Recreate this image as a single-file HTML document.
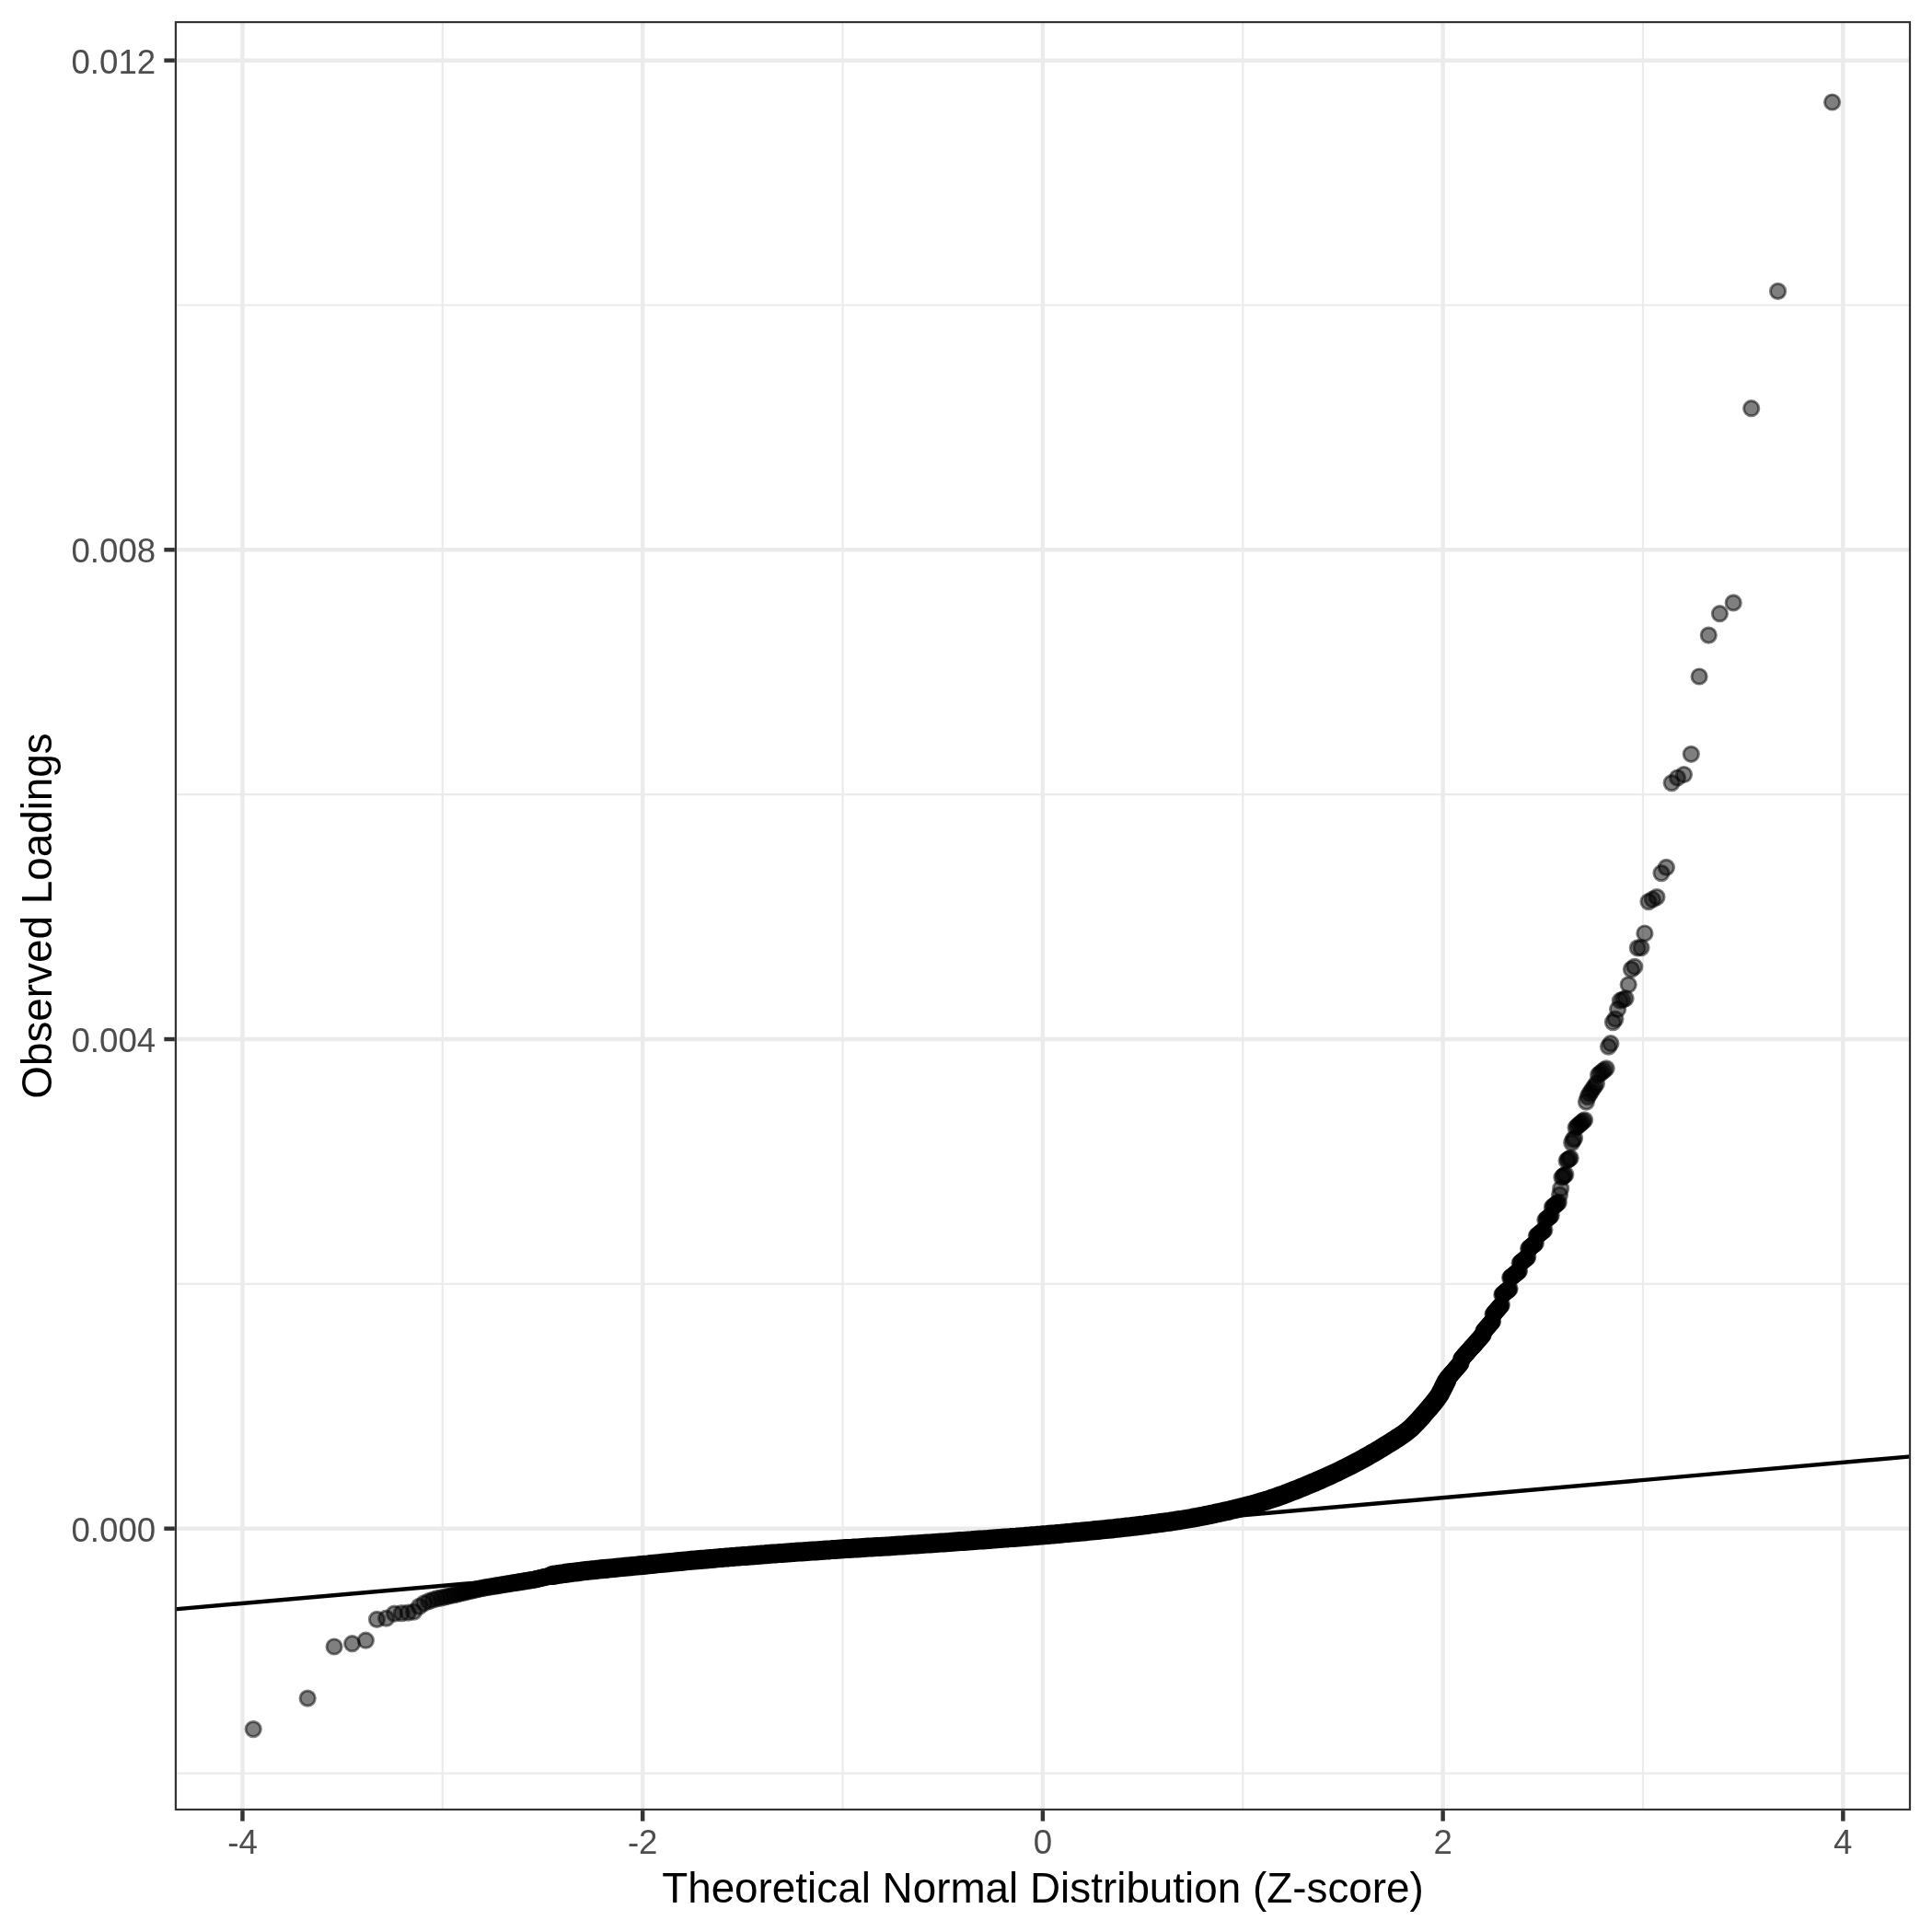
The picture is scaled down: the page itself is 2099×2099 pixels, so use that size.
<!DOCTYPE html>
<html><head><meta charset="utf-8"><title>QQ plot</title>
<style>
html,body{margin:0;padding:0;background:#fff}
svg{display:block;will-change:transform}
text{font-family:"Liberation Sans",sans-serif}
.at{font-size:36.67px;fill:#4d4d4d}
.ti{font-size:45.83px;fill:#000}
.gM{stroke:#ebebeb;stroke-width:4.45;fill:none}
.gm{stroke:#ebebeb;stroke-width:2.22;fill:none}
.tk{stroke:#333;stroke-width:4.45;fill:none}
.pt circle{fill:#000;fill-opacity:.5;stroke:#000;stroke-opacity:.5;stroke-width:2.95}
</style></head><body>
<svg width="2099" height="2099" viewBox="0 0 2099 2099">
<rect width="2099" height="2099" fill="#fff"/>
<defs><clipPath id="pc"><rect x="189.8" y="22.9" width="1886.30" height="1944.20"/></clipPath></defs>
<g clip-path="url(#pc)">

<path class="gm" d="M189.8 1926.54H2076.1"/>
<path class="gm" d="M189.8 1394.86H2076.1"/>
<path class="gm" d="M189.8 863.18H2076.1"/>
<path class="gm" d="M189.8 331.49H2076.1"/>
<path class="gm" d="M480.82 22.9V1967.1"/>
<path class="gm" d="M915.54 22.9V1967.1"/>
<path class="gm" d="M1350.26 22.9V1967.1"/>
<path class="gm" d="M1784.98 22.9V1967.1"/>
<path class="gM" d="M189.8 1660.70H2076.1"/>
<path class="gM" d="M189.8 1129.02H2076.1"/>
<path class="gM" d="M189.8 597.33H2076.1"/>
<path class="gM" d="M189.8 65.65H2076.1"/>
<path class="gM" d="M263.46 22.9V1967.1"/>
<path class="gM" d="M698.18 22.9V1967.1"/>
<path class="gM" d="M1132.90 22.9V1967.1"/>
<path class="gM" d="M1567.62 22.9V1967.1"/>
<path class="gM" d="M2002.34 22.9V1967.1"/>


<polyline fill="none" stroke="#000" stroke-width="21" stroke-linecap="round" stroke-linejoin="round" points="600.1,1711.5 603.5,1711.0 606.8,1710.4 610.0,1710.0 613.1,1709.5 616.8,1709.0 620.3,1708.5 623.7,1708.1 627.1,1707.7 630.2,1707.3 633.3,1706.9 636.9,1706.5 640.4,1706.1 643.7,1705.8 646.9,1705.5 650.0,1705.1 653.0,1704.8 656.4,1704.5 659.7,1704.2 662.9,1703.9 666.0,1703.6 669.4,1703.2 672.8,1702.9 676.0,1702.6 679.1,1702.3 682.1,1702.1 685.4,1701.7 688.6,1701.4 691.7,1701.1 694.7,1700.8 698.0,1700.5 701.1,1700.2 704.2,1699.9 707.5,1699.5 710.7,1699.2 713.8,1698.9 716.8,1698.6 720.0,1698.3 723.1,1698.0 726.1,1697.7 729.3,1697.4 732.4,1697.1 735.5,1696.8 738.7,1696.5 741.8,1696.2 744.8,1695.9 747.9,1695.6 751.0,1695.3 754.0,1695.1 757.2,1694.8 760.2,1694.5 763.4,1694.2 766.4,1694.0 769.5,1693.7 772.6,1693.4 775.6,1693.2 778.8,1692.9 781.8,1692.6 785.0,1692.4 788.1,1692.1 791.1,1691.9 794.2,1691.6 797.2,1691.4 800.3,1691.1 803.4,1690.9 806.5,1690.6 809.5,1690.4 812.6,1690.2 815.7,1689.9 818.8,1689.7 821.8,1689.5 824.9,1689.2 828.0,1689.0 831.1,1688.8 834.1,1688.5 837.2,1688.3 840.2,1688.1 843.3,1687.9 846.3,1687.6 849.4,1687.4 852.4,1687.2 855.5,1687.0 858.5,1686.8 861.5,1686.6 864.6,1686.3 867.6,1686.1 870.7,1685.9 873.7,1685.7 876.8,1685.5 879.8,1685.3 882.9,1685.1 885.9,1684.9 889.0,1684.7 892.0,1684.5 895.1,1684.3 898.1,1684.1 901.1,1683.9 904.1,1683.6 907.2,1683.4 910.2,1683.2 913.3,1683.0 916.3,1682.8 919.3,1682.6 922.4,1682.4 925.4,1682.3 928.5,1682.1 931.5,1681.9 934.5,1681.7 937.5,1681.5 940.6,1681.3 943.6,1681.1 946.6,1681.0 949.7,1680.8 952.7,1680.6 955.7,1680.4 958.7,1680.2 961.8,1680.1 964.8,1679.9 967.8,1679.7 970.9,1679.5 973.9,1679.3 976.9,1679.1 980.0,1678.9 983.0,1678.7 986.0,1678.5 989.0,1678.3 992.0,1678.1 995.1,1677.9 998.1,1677.7 1001.1,1677.5 1004.1,1677.3 1007.1,1677.1 1010.2,1676.9 1013.2,1676.7 1016.2,1676.5 1019.2,1676.3 1022.3,1676.1 1025.3,1675.9 1028.3,1675.7 1031.3,1675.5 1034.4,1675.2 1037.4,1675.0 1040.4,1674.8 1043.4,1674.6 1046.5,1674.4 1049.5,1674.2 1052.5,1674.0 1055.5,1673.8 1058.6,1673.5 1061.6,1673.3 1064.6,1673.1 1067.6,1672.9 1070.7,1672.7 1073.7,1672.5 1076.7,1672.2 1079.7,1672.0 1082.8,1671.8 1085.8,1671.6 1088.8,1671.3 1091.8,1671.1 1094.8,1670.9 1097.9,1670.6 1100.9,1670.4 1103.9,1670.2 1106.9,1669.9 1109.9,1669.7 1112.9,1669.5 1116.0,1669.2 1119.0,1669.0 1122.0,1668.7 1125.1,1668.5 1128.1,1668.2 1131.1,1668.0 1134.2,1667.7 1137.2,1667.5 1140.2,1667.2 1143.3,1666.9 1146.3,1666.7 1149.4,1666.4 1152.4,1666.2 1155.4,1665.9 1158.4,1665.6 1161.4,1665.4 1164.4,1665.1 1167.5,1664.8 1170.5,1664.5 1173.5,1664.3 1176.5,1664.0 1179.5,1663.7 1182.6,1663.4 1185.6,1663.1 1188.6,1662.8 1191.6,1662.5 1194.6,1662.2 1197.7,1661.9 1200.7,1661.6 1203.7,1661.3 1206.7,1661.0 1209.8,1660.7 1212.8,1660.3 1215.8,1660.0 1218.8,1659.7 1221.8,1659.3 1224.9,1659.0 1227.9,1658.7 1230.9,1658.3 1233.9,1658.0 1236.9,1657.6 1240.0,1657.2 1243.0,1656.9 1246.0,1656.5 1249.1,1656.1 1252.1,1655.7 1255.1,1655.3 1258.1,1654.9 1261.1,1654.5 1264.1,1654.1 1267.2,1653.7 1270.2,1653.3 1273.2,1652.8 1276.2,1652.4 1279.2,1651.9 1282.2,1651.5 1285.2,1651.0 1288.2,1650.5 1291.3,1650.0 1294.3,1649.5 1297.3,1648.9 1300.3,1648.4 1303.4,1647.8 1306.4,1647.2 1309.5,1646.6 1312.5,1646.0 1315.5,1645.4 1318.5,1644.8 1321.5,1644.1 1324.6,1643.4 1327.6,1642.8 1330.7,1642.1 1333.7,1641.4 1336.7,1640.7 1339.8,1639.9 1342.8,1639.2 1345.8,1638.5 1348.9,1637.7 1351.9,1637.0 1354.9,1636.2 1357.9,1635.4 1361.0,1634.6 1364.0,1633.7 1367.1,1632.8 1370.1,1632.0 1373.1,1631.0 1376.2,1630.1 1379.2,1629.1 1382.3,1628.1 1385.3,1627.1 1388.4,1626.0 1391.4,1624.9 1394.5,1623.8 1397.5,1622.7 1400.5,1621.5 1403.6,1620.3 1406.7,1619.1 1409.7,1617.9 1412.8,1616.6 1415.8,1615.4 1418.9,1614.2 1421.9,1612.9 1424.9,1611.6 1428.0,1610.4 1431.0,1609.0 1434.1,1607.7 1437.1,1606.4 1440.2,1605.0 1443.3,1603.6 1446.3,1602.2 1449.4,1600.8 1452.4,1599.4 1455.5,1597.9 1458.5,1596.4 1461.6,1594.9 1464.6,1593.4 1467.7,1591.8 1470.7,1590.2 1473.8,1588.6 1477.0,1586.9 1480.0,1585.3 1483.2,1583.5 1486.2,1581.8 1489.3,1580.0 1492.4,1578.3 1495.5,1576.5 1498.6,1574.6 1501.7,1572.7 1504.8,1570.8 1507.9,1568.9 1511.0,1567.0 1514.2,1565.0 1517.2,1563.0 1520.4,1561.0 1523.4,1558.9 1526.5,1556.7 1529.6,1554.3 1532.7,1551.7 1535.7,1548.8 1538.9,1545.5 1541.9,1542.2 1545.0,1538.7 1548.2,1535.0 1551.5,1531.3 1554.6,1527.7 1557.7,1523.9 1561.0,1519.6 1564.1,1515.1 1567.2,1509.2 1570.4,1502.6 1571.8,1500.0"/>

<g class="pt">
<circle cx="275.2" cy="1878.6" r="8.14"/>
<circle cx="334.2" cy="1845.1" r="8.14"/>
<circle cx="363.1" cy="1789.0" r="8.14"/>
<circle cx="382.6" cy="1785.7" r="8.14"/>
<circle cx="397.4" cy="1782.2" r="8.14"/>
<circle cx="409.5" cy="1759.4" r="8.14"/>
<circle cx="419.7" cy="1758.2" r="8.14"/>
<circle cx="428.5" cy="1753.1" r="8.14"/>
<circle cx="436.3" cy="1752.6" r="8.14"/>
<circle cx="443.3" cy="1752.1" r="8.14"/>
<circle cx="449.6" cy="1751.1" r="8.14"/>
<circle cx="455.4" cy="1745.4" r="8.14"/>
<circle cx="460.8" cy="1741.8" r="8.14"/>
<circle cx="465.8" cy="1739.7" r="8.14"/>
<circle cx="470.4" cy="1738.1" r="8.14"/>
<circle cx="474.8" cy="1736.6" r="8.14"/>
<circle cx="478.9" cy="1736.1" r="8.14"/>
<circle cx="482.8" cy="1735.2" r="8.14"/>
<circle cx="486.5" cy="1734.3" r="8.14"/>
<circle cx="490.0" cy="1733.5" r="8.14"/>
<circle cx="493.4" cy="1732.7" r="8.14"/>
<circle cx="496.6" cy="1731.9" r="8.14"/>
<circle cx="499.7" cy="1731.2" r="8.14"/>
<circle cx="502.6" cy="1730.4" r="8.14"/>
<circle cx="505.5" cy="1729.8" r="8.14"/>
<circle cx="508.2" cy="1729.1" r="8.14"/>
<circle cx="510.9" cy="1728.5" r="8.14"/>
<circle cx="513.4" cy="1727.9" r="8.14"/>
<circle cx="515.9" cy="1727.3" r="8.14"/>
<circle cx="518.3" cy="1726.7" r="8.14"/>
<circle cx="520.6" cy="1726.2" r="8.14"/>
<circle cx="522.9" cy="1725.6" r="8.14"/>
<circle cx="525.1" cy="1725.1" r="8.14"/>
<circle cx="527.2" cy="1724.8" r="8.14"/>
<circle cx="529.3" cy="1724.4" r="8.14"/>
<circle cx="531.3" cy="1724.1" r="8.14"/>
<circle cx="533.3" cy="1723.8" r="8.14"/>
<circle cx="535.2" cy="1723.5" r="8.14"/>
<circle cx="537.1" cy="1723.2" r="8.14"/>
<circle cx="538.9" cy="1722.9" r="8.14"/>
<circle cx="540.7" cy="1722.6" r="8.14"/>
<circle cx="542.4" cy="1722.3" r="8.14"/>
<circle cx="544.2" cy="1722.0" r="8.14"/>
<circle cx="545.8" cy="1721.7" r="8.14"/>
<circle cx="547.5" cy="1721.5" r="8.14"/>
<circle cx="549.1" cy="1721.2" r="8.14"/>
<circle cx="550.7" cy="1721.0" r="8.14"/>
<circle cx="552.2" cy="1720.7" r="8.14"/>
<circle cx="553.7" cy="1720.5" r="8.14"/>
<circle cx="555.2" cy="1720.2" r="8.14"/>
<circle cx="556.7" cy="1720.0" r="8.14"/>
<circle cx="558.1" cy="1719.7" r="8.14"/>
<circle cx="559.6" cy="1719.5" r="8.14"/>
<circle cx="561.0" cy="1719.3" r="8.14"/>
<circle cx="562.3" cy="1719.1" r="8.14"/>
<circle cx="563.7" cy="1718.9" r="8.14"/>
<circle cx="565.0" cy="1718.6" r="8.14"/>
<circle cx="566.3" cy="1718.4" r="8.14"/>
<circle cx="567.6" cy="1718.2" r="8.14"/>
<circle cx="568.9" cy="1718.0" r="8.14"/>
<circle cx="570.1" cy="1717.8" r="8.14"/>
<circle cx="571.3" cy="1717.6" r="8.14"/>
<circle cx="572.5" cy="1717.4" r="8.14"/>
<circle cx="573.7" cy="1717.2" r="8.14"/>
<circle cx="574.9" cy="1717.0" r="8.14"/>
<circle cx="576.1" cy="1716.8" r="8.14"/>
<circle cx="577.2" cy="1716.7" r="8.14"/>
<circle cx="578.3" cy="1716.5" r="8.14"/>
<circle cx="579.5" cy="1716.3" r="8.14"/>
<circle cx="580.6" cy="1716.1" r="8.14"/>
<circle cx="581.6" cy="1715.8" r="8.14"/>
<circle cx="582.7" cy="1715.6" r="8.14"/>
<circle cx="583.8" cy="1715.3" r="8.14"/>
<circle cx="584.8" cy="1715.1" r="8.14"/>
<circle cx="585.9" cy="1714.8" r="8.14"/>
<circle cx="586.9" cy="1714.6" r="8.14"/>
<circle cx="587.9" cy="1714.4" r="8.14"/>
<circle cx="588.9" cy="1714.1" r="8.14"/>
<circle cx="589.9" cy="1713.9" r="8.14"/>
<circle cx="590.9" cy="1713.7" r="8.14"/>
<circle cx="591.8" cy="1713.5" r="8.14"/>
<circle cx="592.8" cy="1713.2" r="8.14"/>
<circle cx="593.7" cy="1713.0" r="8.14"/>
<circle cx="594.7" cy="1712.8" r="8.14"/>
<circle cx="595.6" cy="1712.6" r="8.14"/>
<circle cx="596.5" cy="1712.4" r="8.14"/>
<circle cx="597.4" cy="1712.2" r="8.14"/>
<circle cx="598.3" cy="1712.0" r="8.14"/>
<circle cx="599.2" cy="1711.8" r="8.14"/>
<circle cx="600.1" cy="1711.5" r="8.14"/>
<circle cx="600.9" cy="1711.4" r="8.14"/>
<circle cx="601.8" cy="1711.2" r="8.14"/>
<circle cx="602.6" cy="1711.1" r="8.14"/>
<circle cx="603.5" cy="1711.0" r="8.14"/>
<circle cx="604.3" cy="1710.8" r="8.14"/>
<circle cx="605.2" cy="1710.7" r="8.14"/>
<circle cx="606.0" cy="1710.6" r="8.14"/>
<circle cx="606.8" cy="1710.4" r="8.14"/>
<circle cx="607.6" cy="1710.3" r="8.14"/>
<circle cx="608.4" cy="1710.2" r="8.14"/>
<circle cx="609.2" cy="1710.1" r="8.14"/>
<circle cx="610.0" cy="1710.0" r="8.14"/>
<circle cx="610.8" cy="1709.8" r="8.14"/>
<circle cx="611.5" cy="1709.7" r="8.14"/>
<circle cx="612.3" cy="1709.6" r="8.14"/>
<circle cx="613.1" cy="1709.5" r="8.14"/>
<circle cx="613.8" cy="1709.4" r="8.14"/>
<circle cx="614.6" cy="1709.3" r="8.14"/>
<circle cx="615.3" cy="1709.2" r="8.14"/>
<circle cx="616.0" cy="1709.1" r="8.14"/>
<circle cx="616.8" cy="1709.0" r="8.14"/>
<circle cx="617.5" cy="1708.9" r="8.14"/>
<circle cx="618.2" cy="1708.8" r="8.14"/>
<circle cx="618.9" cy="1708.7" r="8.14"/>
<circle cx="619.6" cy="1708.6" r="8.14"/>
<circle cx="620.3" cy="1708.5" r="8.14"/>
<circle cx="621.0" cy="1708.4" r="8.14"/>
<circle cx="621.7" cy="1708.3" r="8.14"/>
<circle cx="622.4" cy="1708.3" r="8.14"/>
<circle cx="623.1" cy="1708.2" r="8.14"/>
<circle cx="623.7" cy="1708.1" r="8.14"/>
<circle cx="624.4" cy="1708.0" r="8.14"/>
<circle cx="625.1" cy="1707.9" r="8.14"/>
<circle cx="625.7" cy="1707.8" r="8.14"/>
<circle cx="626.4" cy="1707.8" r="8.14"/>
<circle cx="627.1" cy="1707.7" r="8.14"/>
<circle cx="627.7" cy="1707.6" r="8.14"/>
<circle cx="628.3" cy="1707.5" r="8.14"/>
<circle cx="629.0" cy="1707.4" r="8.14"/>
<circle cx="629.6" cy="1707.4" r="8.14"/>
<circle cx="630.2" cy="1707.3" r="8.14"/>
<circle cx="630.9" cy="1707.2" r="8.14"/>
<circle cx="631.5" cy="1707.1" r="8.14"/>
<circle cx="632.1" cy="1707.1" r="8.14"/>
<circle cx="632.7" cy="1707.0" r="8.14"/>
<circle cx="633.3" cy="1706.9" r="8.14"/>
<circle cx="633.9" cy="1706.9" r="8.14"/>
<circle cx="634.5" cy="1706.8" r="8.14"/>
<circle cx="635.1" cy="1706.7" r="8.14"/>
<circle cx="635.7" cy="1706.7" r="8.14"/>
<circle cx="636.3" cy="1706.6" r="8.14"/>
<circle cx="636.9" cy="1706.5" r="8.14"/>
<circle cx="637.5" cy="1706.5" r="8.14"/>
<circle cx="638.1" cy="1706.4" r="8.14"/>
<circle cx="638.6" cy="1706.3" r="8.14"/>
<circle cx="639.2" cy="1706.3" r="8.14"/>
<circle cx="639.8" cy="1706.2" r="8.14"/>
<circle cx="641.5" cy="1706.0" r="8.14"/>
<circle cx="643.1" cy="1705.8" r="8.14"/>
<circle cx="644.8" cy="1705.7" r="8.14"/>
<circle cx="646.4" cy="1705.5" r="8.14"/>
<circle cx="648.5" cy="1705.3" r="8.14"/>
<circle cx="650.5" cy="1705.1" r="8.14"/>
<circle cx="652.5" cy="1704.9" r="8.14"/>
<circle cx="654.5" cy="1704.7" r="8.14"/>
<circle cx="656.4" cy="1704.5" r="8.14"/>
<circle cx="658.3" cy="1704.3" r="8.14"/>
<circle cx="660.2" cy="1704.1" r="8.14"/>
<circle cx="662.0" cy="1704.0" r="8.14"/>
<circle cx="663.8" cy="1703.8" r="8.14"/>
<circle cx="665.6" cy="1703.6" r="8.14"/>
<circle cx="667.3" cy="1703.4" r="8.14"/>
<circle cx="669.0" cy="1703.3" r="8.14"/>
<circle cx="670.7" cy="1703.1" r="8.14"/>
<circle cx="672.3" cy="1703.0" r="8.14"/>
<circle cx="674.0" cy="1702.8" r="8.14"/>
<circle cx="675.6" cy="1702.7" r="8.14"/>
<circle cx="677.5" cy="1702.5" r="8.14"/>
<circle cx="679.5" cy="1702.3" r="8.14"/>
<circle cx="681.3" cy="1702.1" r="8.14"/>
<circle cx="683.2" cy="1701.9" r="8.14"/>
<circle cx="685.0" cy="1701.8" r="8.14"/>
<circle cx="686.8" cy="1701.6" r="8.14"/>
<circle cx="688.6" cy="1701.4" r="8.14"/>
<circle cx="690.3" cy="1701.3" r="8.14"/>
<circle cx="692.0" cy="1701.1" r="8.14"/>
<circle cx="693.7" cy="1700.9" r="8.14"/>
<circle cx="695.4" cy="1700.8" r="8.14"/>
<circle cx="697.0" cy="1700.6" r="8.14"/>
<circle cx="698.6" cy="1700.4" r="8.14"/>
<circle cx="700.5" cy="1700.2" r="8.14"/>
<circle cx="702.4" cy="1700.1" r="8.14"/>
<circle cx="704.2" cy="1699.9" r="8.14"/>
<circle cx="706.0" cy="1699.7" r="8.14"/>
<circle cx="707.8" cy="1699.5" r="8.14"/>
<circle cx="709.5" cy="1699.3" r="8.14"/>
<circle cx="711.2" cy="1699.2" r="8.14"/>
<circle cx="712.9" cy="1699.0" r="8.14"/>
<circle cx="714.6" cy="1698.8" r="8.14"/>
<circle cx="716.2" cy="1698.7" r="8.14"/>
<circle cx="717.9" cy="1698.5" r="8.14"/>
<circle cx="719.5" cy="1698.4" r="8.14"/>
<circle cx="721.3" cy="1698.2" r="8.14"/>
<circle cx="723.1" cy="1698.0" r="8.14"/>
<circle cx="724.9" cy="1697.8" r="8.14"/>
<circle cx="726.6" cy="1697.7" r="8.14"/>
<circle cx="728.4" cy="1697.5" r="8.14"/>
<circle cx="730.1" cy="1697.3" r="8.14"/>
<circle cx="731.7" cy="1697.2" r="8.14"/>
<circle cx="733.4" cy="1697.0" r="8.14"/>
<circle cx="735.0" cy="1696.8" r="8.14"/>
<circle cx="736.6" cy="1696.7" r="8.14"/>
<circle cx="738.4" cy="1696.5" r="8.14"/>
<circle cx="740.2" cy="1696.3" r="8.14"/>
<circle cx="742.0" cy="1696.2" r="8.14"/>
<circle cx="743.7" cy="1696.0" r="8.14"/>
<circle cx="745.4" cy="1695.9" r="8.14"/>
<circle cx="747.1" cy="1695.7" r="8.14"/>
<circle cx="748.8" cy="1695.5" r="8.14"/>
<circle cx="750.4" cy="1695.4" r="8.14"/>
<circle cx="752.0" cy="1695.2" r="8.14"/>
<circle cx="753.6" cy="1695.1" r="8.14"/>
<circle cx="755.4" cy="1694.9" r="8.14"/>
<circle cx="757.2" cy="1694.8" r="8.14"/>
<circle cx="758.9" cy="1694.6" r="8.14"/>
<circle cx="760.6" cy="1694.5" r="8.14"/>
<circle cx="762.3" cy="1694.3" r="8.14"/>
<circle cx="763.9" cy="1694.2" r="8.14"/>
<circle cx="765.5" cy="1694.0" r="8.14"/>
<circle cx="767.2" cy="1693.9" r="8.14"/>
<circle cx="768.8" cy="1693.7" r="8.14"/>
<circle cx="770.5" cy="1693.6" r="8.14"/>
<circle cx="772.2" cy="1693.4" r="8.14"/>
<circle cx="773.9" cy="1693.3" r="8.14"/>
<circle cx="775.6" cy="1693.2" r="8.14"/>
<circle cx="777.3" cy="1693.0" r="8.14"/>
<circle cx="778.9" cy="1692.9" r="8.14"/>
<circle cx="780.5" cy="1692.7" r="8.14"/>
<circle cx="782.2" cy="1692.6" r="8.14"/>
<circle cx="783.9" cy="1692.5" r="8.14"/>
<circle cx="785.6" cy="1692.3" r="8.14"/>
<circle cx="787.3" cy="1692.2" r="8.14"/>
<circle cx="789.0" cy="1692.0" r="8.14"/>
<circle cx="790.6" cy="1691.9" r="8.14"/>
<circle cx="792.3" cy="1691.8" r="8.14"/>
<circle cx="793.9" cy="1691.6" r="8.14"/>
<circle cx="795.5" cy="1691.5" r="8.14"/>
<circle cx="797.2" cy="1691.4" r="8.14"/>
<circle cx="798.9" cy="1691.2" r="8.14"/>
<circle cx="800.6" cy="1691.1" r="8.14"/>
<circle cx="802.3" cy="1691.0" r="8.14"/>
<circle cx="803.9" cy="1690.8" r="8.14"/>
<circle cx="805.5" cy="1690.7" r="8.14"/>
<circle cx="807.1" cy="1690.6" r="8.14"/>
<circle cx="808.9" cy="1690.5" r="8.14"/>
<circle cx="810.6" cy="1690.3" r="8.14"/>
<circle cx="812.2" cy="1690.2" r="8.14"/>
<circle cx="813.9" cy="1690.1" r="8.14"/>
<circle cx="815.5" cy="1689.9" r="8.14"/>
<circle cx="817.2" cy="1689.8" r="8.14"/>
<circle cx="818.8" cy="1689.7" r="8.14"/>
<circle cx="820.5" cy="1689.6" r="8.14"/>
<circle cx="822.2" cy="1689.4" r="8.14"/>
<circle cx="823.9" cy="1689.3" r="8.14"/>
<circle cx="825.5" cy="1689.2" r="8.14"/>
<circle cx="827.2" cy="1689.1" r="8.14"/>
<circle cx="828.8" cy="1688.9" r="8.14"/>
<circle cx="830.4" cy="1688.8" r="8.14"/>
<circle cx="832.1" cy="1688.7" r="8.14"/>
<circle cx="833.8" cy="1688.6" r="8.14"/>
<circle cx="835.4" cy="1688.4" r="8.14"/>
<circle cx="837.1" cy="1688.3" r="8.14"/>
<circle cx="838.7" cy="1688.2" r="8.14"/>
<circle cx="840.3" cy="1688.1" r="8.14"/>
<circle cx="841.9" cy="1688.0" r="8.14"/>
<circle cx="843.6" cy="1687.8" r="8.14"/>
<circle cx="845.3" cy="1687.7" r="8.14"/>
<circle cx="846.9" cy="1687.6" r="8.14"/>
<circle cx="848.6" cy="1687.5" r="8.14"/>
<circle cx="850.2" cy="1687.4" r="8.14"/>
<circle cx="851.8" cy="1687.2" r="8.14"/>
<circle cx="853.5" cy="1687.1" r="8.14"/>
<circle cx="855.2" cy="1687.0" r="8.14"/>
<circle cx="856.8" cy="1686.9" r="8.14"/>
<circle cx="858.5" cy="1686.8" r="8.14"/>
<circle cx="860.1" cy="1686.7" r="8.14"/>
<circle cx="861.7" cy="1686.5" r="8.14"/>
<circle cx="863.3" cy="1686.4" r="8.14"/>
<circle cx="865.0" cy="1686.3" r="8.14"/>
<circle cx="866.6" cy="1686.2" r="8.14"/>
<circle cx="868.3" cy="1686.1" r="8.14"/>
<circle cx="869.9" cy="1686.0" r="8.14"/>
<circle cx="871.5" cy="1685.9" r="8.14"/>
<circle cx="873.1" cy="1685.8" r="8.14"/>
<circle cx="874.8" cy="1685.6" r="8.14"/>
<circle cx="876.5" cy="1685.5" r="8.14"/>
<circle cx="878.1" cy="1685.4" r="8.14"/>
<circle cx="879.7" cy="1685.3" r="8.14"/>
<circle cx="881.3" cy="1685.2" r="8.14"/>
<circle cx="882.9" cy="1685.1" r="8.14"/>
<circle cx="884.6" cy="1685.0" r="8.14"/>
<circle cx="886.3" cy="1684.9" r="8.14"/>
<circle cx="887.9" cy="1684.7" r="8.14"/>
<circle cx="889.5" cy="1684.6" r="8.14"/>
<circle cx="891.2" cy="1684.5" r="8.14"/>
<circle cx="892.8" cy="1684.4" r="8.14"/>
<circle cx="894.4" cy="1684.3" r="8.14"/>
<circle cx="896.1" cy="1684.2" r="8.14"/>
<circle cx="897.7" cy="1684.1" r="8.14"/>
<circle cx="899.3" cy="1684.0" r="8.14"/>
<circle cx="901.0" cy="1683.9" r="8.14"/>
<circle cx="902.6" cy="1683.8" r="8.14"/>
<circle cx="904.2" cy="1683.6" r="8.14"/>
<circle cx="905.9" cy="1683.5" r="8.14"/>
<circle cx="907.5" cy="1683.4" r="8.14"/>
<circle cx="909.1" cy="1683.3" r="8.14"/>
<circle cx="910.7" cy="1683.2" r="8.14"/>
<circle cx="912.3" cy="1683.1" r="8.14"/>
<circle cx="914.0" cy="1683.0" r="8.14"/>
<circle cx="915.7" cy="1682.9" r="8.14"/>
<circle cx="917.3" cy="1682.8" r="8.14"/>
<circle cx="918.9" cy="1682.7" r="8.14"/>
<circle cx="920.5" cy="1682.6" r="8.14"/>
<circle cx="922.1" cy="1682.5" r="8.14"/>
<circle cx="923.8" cy="1682.4" r="8.14"/>
<circle cx="925.4" cy="1682.3" r="8.14"/>
<circle cx="927.1" cy="1682.2" r="8.14"/>
<circle cx="928.7" cy="1682.1" r="8.14"/>
<circle cx="930.3" cy="1682.0" r="8.14"/>
<circle cx="931.9" cy="1681.9" r="8.14"/>
<circle cx="933.5" cy="1681.8" r="8.14"/>
<circle cx="935.2" cy="1681.7" r="8.14"/>
<circle cx="936.8" cy="1681.6" r="8.14"/>
<circle cx="938.4" cy="1681.5" r="8.14"/>
<circle cx="940.1" cy="1681.4" r="8.14"/>
<circle cx="941.7" cy="1681.3" r="8.14"/>
<circle cx="943.3" cy="1681.2" r="8.14"/>
<circle cx="944.9" cy="1681.1" r="8.14"/>
<circle cx="946.6" cy="1681.0" r="8.14"/>
<circle cx="948.2" cy="1680.9" r="8.14"/>
<circle cx="949.8" cy="1680.8" r="8.14"/>
<circle cx="951.4" cy="1680.7" r="8.14"/>
<circle cx="953.1" cy="1680.6" r="8.14"/>
<circle cx="954.7" cy="1680.5" r="8.14"/>
<circle cx="956.3" cy="1680.4" r="8.14"/>
<circle cx="958.0" cy="1680.3" r="8.14"/>
<circle cx="959.6" cy="1680.2" r="8.14"/>
<circle cx="961.2" cy="1680.1" r="8.14"/>
<circle cx="962.8" cy="1680.0" r="8.14"/>
<circle cx="964.5" cy="1679.9" r="8.14"/>
<circle cx="966.1" cy="1679.8" r="8.14"/>
<circle cx="967.7" cy="1679.7" r="8.14"/>
<circle cx="969.3" cy="1679.6" r="8.14"/>
<circle cx="970.9" cy="1679.5" r="8.14"/>
<circle cx="972.6" cy="1679.4" r="8.14"/>
<circle cx="974.2" cy="1679.3" r="8.14"/>
<circle cx="975.9" cy="1679.2" r="8.14"/>
<circle cx="977.5" cy="1679.1" r="8.14"/>
<circle cx="979.1" cy="1679.0" r="8.14"/>
<circle cx="980.7" cy="1678.9" r="8.14"/>
<circle cx="982.3" cy="1678.7" r="8.14"/>
<circle cx="984.0" cy="1678.6" r="8.14"/>
<circle cx="985.6" cy="1678.5" r="8.14"/>
<circle cx="987.2" cy="1678.4" r="8.14"/>
<circle cx="988.9" cy="1678.3" r="8.14"/>
<circle cx="990.5" cy="1678.2" r="8.14"/>
<circle cx="992.1" cy="1678.1" r="8.14"/>
<circle cx="993.7" cy="1678.0" r="8.14"/>
<circle cx="995.3" cy="1677.9" r="8.14"/>
<circle cx="997.0" cy="1677.8" r="8.14"/>
<circle cx="998.6" cy="1677.7" r="8.14"/>
<circle cx="1000.2" cy="1677.6" r="8.14"/>
<circle cx="1001.8" cy="1677.5" r="8.14"/>
<circle cx="1003.4" cy="1677.3" r="8.14"/>
<circle cx="1005.0" cy="1677.2" r="8.14"/>
<circle cx="1006.7" cy="1677.1" r="8.14"/>
<circle cx="1008.3" cy="1677.0" r="8.14"/>
<circle cx="1009.9" cy="1676.9" r="8.14"/>
<circle cx="1011.6" cy="1676.8" r="8.14"/>
<circle cx="1013.2" cy="1676.7" r="8.14"/>
<circle cx="1014.8" cy="1676.6" r="8.14"/>
<circle cx="1016.4" cy="1676.5" r="8.14"/>
<circle cx="1018.0" cy="1676.4" r="8.14"/>
<circle cx="1019.6" cy="1676.3" r="8.14"/>
<circle cx="1021.3" cy="1676.1" r="8.14"/>
<circle cx="1022.9" cy="1676.0" r="8.14"/>
<circle cx="1024.5" cy="1675.9" r="8.14"/>
<circle cx="1026.1" cy="1675.8" r="8.14"/>
<circle cx="1027.7" cy="1675.7" r="8.14"/>
<circle cx="1029.3" cy="1675.6" r="8.14"/>
<circle cx="1030.9" cy="1675.5" r="8.14"/>
<circle cx="1032.6" cy="1675.4" r="8.14"/>
<circle cx="1034.2" cy="1675.3" r="8.14"/>
<circle cx="1035.9" cy="1675.1" r="8.14"/>
<circle cx="1037.5" cy="1675.0" r="8.14"/>
<circle cx="1039.1" cy="1674.9" r="8.14"/>
<circle cx="1040.7" cy="1674.8" r="8.14"/>
<circle cx="1042.3" cy="1674.7" r="8.14"/>
<circle cx="1043.9" cy="1674.6" r="8.14"/>
<circle cx="1045.5" cy="1674.5" r="8.14"/>
<circle cx="1047.2" cy="1674.4" r="8.14"/>
<circle cx="1048.8" cy="1674.2" r="8.14"/>
<circle cx="1050.4" cy="1674.1" r="8.14"/>
<circle cx="1052.1" cy="1674.0" r="8.14"/>
<circle cx="1053.7" cy="1673.9" r="8.14"/>
<circle cx="1055.3" cy="1673.8" r="8.14"/>
<circle cx="1056.9" cy="1673.7" r="8.14"/>
<circle cx="1058.5" cy="1673.6" r="8.14"/>
<circle cx="1060.1" cy="1673.4" r="8.14"/>
<circle cx="1061.7" cy="1673.3" r="8.14"/>
<circle cx="1063.3" cy="1673.2" r="8.14"/>
<circle cx="1065.0" cy="1673.1" r="8.14"/>
<circle cx="1066.6" cy="1673.0" r="8.14"/>
<circle cx="1068.2" cy="1672.9" r="8.14"/>
<circle cx="1069.9" cy="1672.7" r="8.14"/>
<circle cx="1071.5" cy="1672.6" r="8.14"/>
<circle cx="1073.1" cy="1672.5" r="8.14"/>
<circle cx="1074.7" cy="1672.4" r="8.14"/>
<circle cx="1076.3" cy="1672.3" r="8.14"/>
<circle cx="1077.9" cy="1672.1" r="8.14"/>
<circle cx="1079.6" cy="1672.0" r="8.14"/>
<circle cx="1081.2" cy="1671.9" r="8.14"/>
<circle cx="1082.8" cy="1671.8" r="8.14"/>
<circle cx="1084.4" cy="1671.7" r="8.14"/>
<circle cx="1086.0" cy="1671.5" r="8.14"/>
<circle cx="1087.6" cy="1671.4" r="8.14"/>
<circle cx="1089.2" cy="1671.3" r="8.14"/>
<circle cx="1090.9" cy="1671.2" r="8.14"/>
<circle cx="1092.5" cy="1671.0" r="8.14"/>
<circle cx="1094.1" cy="1670.9" r="8.14"/>
<circle cx="1095.8" cy="1670.8" r="8.14"/>
<circle cx="1097.4" cy="1670.7" r="8.14"/>
<circle cx="1099.0" cy="1670.5" r="8.14"/>
<circle cx="1100.6" cy="1670.4" r="8.14"/>
<circle cx="1102.2" cy="1670.3" r="8.14"/>
<circle cx="1103.9" cy="1670.2" r="8.14"/>
<circle cx="1105.5" cy="1670.0" r="8.14"/>
<circle cx="1107.1" cy="1669.9" r="8.14"/>
<circle cx="1108.7" cy="1669.8" r="8.14"/>
<circle cx="1110.3" cy="1669.7" r="8.14"/>
<circle cx="1111.9" cy="1669.5" r="8.14"/>
<circle cx="1113.5" cy="1669.4" r="8.14"/>
<circle cx="1115.1" cy="1669.3" r="8.14"/>
<circle cx="1116.8" cy="1669.1" r="8.14"/>
<circle cx="1118.4" cy="1669.0" r="8.14"/>
<circle cx="1120.0" cy="1668.9" r="8.14"/>
<circle cx="1121.6" cy="1668.8" r="8.14"/>
<circle cx="1123.2" cy="1668.6" r="8.14"/>
<circle cx="1124.8" cy="1668.5" r="8.14"/>
<circle cx="1126.4" cy="1668.4" r="8.14"/>
<circle cx="1128.0" cy="1668.2" r="8.14"/>
<circle cx="1129.6" cy="1668.1" r="8.14"/>
<circle cx="1131.2" cy="1668.0" r="8.14"/>
<circle cx="1132.8" cy="1667.8" r="8.14"/>
<circle cx="1134.4" cy="1667.7" r="8.14"/>
<circle cx="1136.0" cy="1667.6" r="8.14"/>
<circle cx="1137.6" cy="1667.4" r="8.14"/>
<circle cx="1139.2" cy="1667.3" r="8.14"/>
<circle cx="1140.8" cy="1667.2" r="8.14"/>
<circle cx="1142.4" cy="1667.0" r="8.14"/>
<circle cx="1144.0" cy="1666.9" r="8.14"/>
<circle cx="1145.6" cy="1666.7" r="8.14"/>
<circle cx="1147.2" cy="1666.6" r="8.14"/>
<circle cx="1148.8" cy="1666.5" r="8.14"/>
<circle cx="1150.4" cy="1666.3" r="8.14"/>
<circle cx="1152.0" cy="1666.2" r="8.14"/>
<circle cx="1153.7" cy="1666.0" r="8.14"/>
<circle cx="1155.3" cy="1665.9" r="8.14"/>
<circle cx="1156.9" cy="1665.8" r="8.14"/>
<circle cx="1158.5" cy="1665.6" r="8.14"/>
<circle cx="1160.1" cy="1665.5" r="8.14"/>
<circle cx="1161.7" cy="1665.3" r="8.14"/>
<circle cx="1163.3" cy="1665.2" r="8.14"/>
<circle cx="1165.0" cy="1665.0" r="8.14"/>
<circle cx="1166.6" cy="1664.9" r="8.14"/>
<circle cx="1168.2" cy="1664.7" r="8.14"/>
<circle cx="1169.8" cy="1664.6" r="8.14"/>
<circle cx="1171.5" cy="1664.4" r="8.14"/>
<circle cx="1173.1" cy="1664.3" r="8.14"/>
<circle cx="1174.7" cy="1664.1" r="8.14"/>
<circle cx="1176.3" cy="1664.0" r="8.14"/>
<circle cx="1178.0" cy="1663.8" r="8.14"/>
<circle cx="1179.6" cy="1663.7" r="8.14"/>
<circle cx="1181.2" cy="1663.5" r="8.14"/>
<circle cx="1182.8" cy="1663.4" r="8.14"/>
<circle cx="1184.4" cy="1663.2" r="8.14"/>
<circle cx="1186.0" cy="1663.1" r="8.14"/>
<circle cx="1187.6" cy="1662.9" r="8.14"/>
<circle cx="1189.2" cy="1662.8" r="8.14"/>
<circle cx="1190.8" cy="1662.6" r="8.14"/>
<circle cx="1192.4" cy="1662.4" r="8.14"/>
<circle cx="1194.0" cy="1662.3" r="8.14"/>
<circle cx="1195.7" cy="1662.1" r="8.14"/>
<circle cx="1197.3" cy="1661.9" r="8.14"/>
<circle cx="1198.9" cy="1661.8" r="8.14"/>
<circle cx="1200.6" cy="1661.6" r="8.14"/>
<circle cx="1202.2" cy="1661.5" r="8.14"/>
<circle cx="1203.8" cy="1661.3" r="8.14"/>
<circle cx="1205.4" cy="1661.1" r="8.14"/>
<circle cx="1207.0" cy="1661.0" r="8.14"/>
<circle cx="1208.6" cy="1660.8" r="8.14"/>
<circle cx="1210.2" cy="1660.6" r="8.14"/>
<circle cx="1211.8" cy="1660.4" r="8.14"/>
<circle cx="1213.4" cy="1660.3" r="8.14"/>
<circle cx="1215.0" cy="1660.1" r="8.14"/>
<circle cx="1216.7" cy="1659.9" r="8.14"/>
<circle cx="1218.3" cy="1659.7" r="8.14"/>
<circle cx="1219.9" cy="1659.6" r="8.14"/>
<circle cx="1221.5" cy="1659.4" r="8.14"/>
<circle cx="1223.1" cy="1659.2" r="8.14"/>
<circle cx="1224.7" cy="1659.0" r="8.14"/>
<circle cx="1226.3" cy="1658.8" r="8.14"/>
<circle cx="1227.9" cy="1658.7" r="8.14"/>
<circle cx="1229.6" cy="1658.5" r="8.14"/>
<circle cx="1231.2" cy="1658.3" r="8.14"/>
<circle cx="1232.8" cy="1658.1" r="8.14"/>
<circle cx="1234.4" cy="1657.9" r="8.14"/>
<circle cx="1236.0" cy="1657.7" r="8.14"/>
<circle cx="1237.6" cy="1657.5" r="8.14"/>
<circle cx="1239.2" cy="1657.3" r="8.14"/>
<circle cx="1240.8" cy="1657.1" r="8.14"/>
<circle cx="1242.5" cy="1656.9" r="8.14"/>
<circle cx="1244.1" cy="1656.7" r="8.14"/>
<circle cx="1245.7" cy="1656.5" r="8.14"/>
<circle cx="1247.3" cy="1656.3" r="8.14"/>
<circle cx="1248.9" cy="1656.1" r="8.14"/>
<circle cx="1250.5" cy="1655.9" r="8.14"/>
<circle cx="1252.1" cy="1655.7" r="8.14"/>
<circle cx="1253.7" cy="1655.5" r="8.14"/>
<circle cx="1255.3" cy="1655.3" r="8.14"/>
<circle cx="1257.0" cy="1655.1" r="8.14"/>
<circle cx="1258.6" cy="1654.9" r="8.14"/>
<circle cx="1260.2" cy="1654.7" r="8.14"/>
<circle cx="1261.8" cy="1654.4" r="8.14"/>
<circle cx="1263.4" cy="1654.2" r="8.14"/>
<circle cx="1265.0" cy="1654.0" r="8.14"/>
<circle cx="1266.6" cy="1653.8" r="8.14"/>
<circle cx="1268.3" cy="1653.5" r="8.14"/>
<circle cx="1269.9" cy="1653.3" r="8.14"/>
<circle cx="1271.5" cy="1653.1" r="8.14"/>
<circle cx="1273.1" cy="1652.8" r="8.14"/>
<circle cx="1274.7" cy="1652.6" r="8.14"/>
<circle cx="1276.3" cy="1652.4" r="8.14"/>
<circle cx="1277.9" cy="1652.1" r="8.14"/>
<circle cx="1279.5" cy="1651.9" r="8.14"/>
<circle cx="1281.2" cy="1651.6" r="8.14"/>
<circle cx="1282.8" cy="1651.4" r="8.14"/>
<circle cx="1284.4" cy="1651.1" r="8.14"/>
<circle cx="1286.0" cy="1650.9" r="8.14"/>
<circle cx="1287.6" cy="1650.6" r="8.14"/>
<circle cx="1289.2" cy="1650.3" r="8.14"/>
<circle cx="1290.8" cy="1650.1" r="8.14"/>
<circle cx="1292.4" cy="1649.8" r="8.14"/>
<circle cx="1294.0" cy="1649.5" r="8.14"/>
<circle cx="1295.6" cy="1649.2" r="8.14"/>
<circle cx="1297.2" cy="1649.0" r="8.14"/>
<circle cx="1298.8" cy="1648.7" r="8.14"/>
<circle cx="1300.5" cy="1648.4" r="8.14"/>
<circle cx="1302.0" cy="1648.1" r="8.14"/>
<circle cx="1303.6" cy="1647.8" r="8.14"/>
<circle cx="1305.2" cy="1647.5" r="8.14"/>
<circle cx="1306.8" cy="1647.2" r="8.14"/>
<circle cx="1308.4" cy="1646.8" r="8.14"/>
<circle cx="1310.1" cy="1646.5" r="8.14"/>
<circle cx="1311.6" cy="1646.2" r="8.14"/>
<circle cx="1313.2" cy="1645.9" r="8.14"/>
<circle cx="1314.8" cy="1645.5" r="8.14"/>
<circle cx="1316.4" cy="1645.2" r="8.14"/>
<circle cx="1318.0" cy="1644.9" r="8.14"/>
<circle cx="1319.7" cy="1644.5" r="8.14"/>
<circle cx="1321.2" cy="1644.2" r="8.14"/>
<circle cx="1322.8" cy="1643.8" r="8.14"/>
<circle cx="1324.4" cy="1643.5" r="8.14"/>
<circle cx="1326.0" cy="1643.1" r="8.14"/>
<circle cx="1327.6" cy="1642.8" r="8.14"/>
<circle cx="1329.2" cy="1642.4" r="8.14"/>
<circle cx="1330.8" cy="1642.0" r="8.14"/>
<circle cx="1332.4" cy="1641.7" r="8.14"/>
<circle cx="1334.0" cy="1641.3" r="8.14"/>
<circle cx="1335.6" cy="1640.9" r="8.14"/>
<circle cx="1337.2" cy="1640.6" r="8.14"/>
<circle cx="1338.8" cy="1640.2" r="8.14"/>
<circle cx="1340.4" cy="1639.8" r="8.14"/>
<circle cx="1341.9" cy="1639.4" r="8.14"/>
<circle cx="1343.5" cy="1639.0" r="8.14"/>
<circle cx="1345.1" cy="1638.6" r="8.14"/>
<circle cx="1346.7" cy="1638.3" r="8.14"/>
<circle cx="1348.4" cy="1637.9" r="8.14"/>
<circle cx="1349.9" cy="1637.5" r="8.14"/>
<circle cx="1351.5" cy="1637.1" r="8.14"/>
<circle cx="1353.1" cy="1636.7" r="8.14"/>
<circle cx="1354.7" cy="1636.3" r="8.14"/>
<circle cx="1356.3" cy="1635.8" r="8.14"/>
<circle cx="1357.8" cy="1635.4" r="8.14"/>
<circle cx="1359.4" cy="1635.0" r="8.14"/>
<circle cx="1361.0" cy="1634.6" r="8.14"/>
<circle cx="1362.6" cy="1634.1" r="8.14"/>
<circle cx="1364.2" cy="1633.7" r="8.14"/>
<circle cx="1365.8" cy="1633.2" r="8.14"/>
<circle cx="1367.3" cy="1632.8" r="8.14"/>
<circle cx="1368.9" cy="1632.3" r="8.14"/>
<circle cx="1370.4" cy="1631.9" r="8.14"/>
<circle cx="1372.0" cy="1631.4" r="8.14"/>
<circle cx="1373.6" cy="1630.9" r="8.14"/>
<circle cx="1375.2" cy="1630.4" r="8.14"/>
<circle cx="1376.7" cy="1629.9" r="8.14"/>
<circle cx="1378.3" cy="1629.4" r="8.14"/>
<circle cx="1379.9" cy="1628.9" r="8.14"/>
<circle cx="1381.4" cy="1628.4" r="8.14"/>
<circle cx="1383.0" cy="1627.9" r="8.14"/>
<circle cx="1384.5" cy="1627.4" r="8.14"/>
<circle cx="1386.1" cy="1626.8" r="8.14"/>
<circle cx="1387.6" cy="1626.3" r="8.14"/>
<circle cx="1389.2" cy="1625.7" r="8.14"/>
<circle cx="1390.7" cy="1625.2" r="8.14"/>
<circle cx="1392.3" cy="1624.6" r="8.14"/>
<circle cx="1393.8" cy="1624.0" r="8.14"/>
<circle cx="1395.3" cy="1623.5" r="8.14"/>
<circle cx="1396.9" cy="1622.9" r="8.14"/>
<circle cx="1398.4" cy="1622.3" r="8.14"/>
<circle cx="1400.0" cy="1621.7" r="8.14"/>
<circle cx="1401.6" cy="1621.1" r="8.14"/>
<circle cx="1403.1" cy="1620.5" r="8.14"/>
<circle cx="1404.6" cy="1619.9" r="8.14"/>
<circle cx="1406.1" cy="1619.3" r="8.14"/>
<circle cx="1407.6" cy="1618.7" r="8.14"/>
<circle cx="1409.2" cy="1618.1" r="8.14"/>
<circle cx="1410.7" cy="1617.5" r="8.14"/>
<circle cx="1412.3" cy="1616.8" r="8.14"/>
<circle cx="1413.8" cy="1616.2" r="8.14"/>
<circle cx="1415.3" cy="1615.6" r="8.14"/>
<circle cx="1416.8" cy="1615.0" r="8.14"/>
<circle cx="1418.3" cy="1614.4" r="8.14"/>
<circle cx="1419.9" cy="1613.7" r="8.14"/>
<circle cx="1421.4" cy="1613.1" r="8.14"/>
<circle cx="1423.0" cy="1612.4" r="8.14"/>
<circle cx="1424.5" cy="1611.8" r="8.14"/>
<circle cx="1426.0" cy="1611.2" r="8.14"/>
<circle cx="1427.5" cy="1610.6" r="8.14"/>
<circle cx="1429.0" cy="1609.9" r="8.14"/>
<circle cx="1430.6" cy="1609.2" r="8.14"/>
<circle cx="1432.1" cy="1608.6" r="8.14"/>
<circle cx="1433.7" cy="1607.9" r="8.14"/>
<circle cx="1435.2" cy="1607.2" r="8.14"/>
<circle cx="1436.7" cy="1606.6" r="8.14"/>
<circle cx="1438.2" cy="1605.9" r="8.14"/>
<circle cx="1439.7" cy="1605.2" r="8.14"/>
<circle cx="1441.2" cy="1604.5" r="8.14"/>
<circle cx="1442.8" cy="1603.8" r="8.14"/>
<circle cx="1444.3" cy="1603.1" r="8.14"/>
<circle cx="1445.8" cy="1602.5" r="8.14"/>
<circle cx="1447.3" cy="1601.8" r="8.14"/>
<circle cx="1448.8" cy="1601.1" r="8.14"/>
<circle cx="1450.3" cy="1600.4" r="8.14"/>
<circle cx="1451.8" cy="1599.7" r="8.14"/>
<circle cx="1453.3" cy="1598.9" r="8.14"/>
<circle cx="1454.9" cy="1598.2" r="8.14"/>
<circle cx="1456.4" cy="1597.4" r="8.14"/>
<circle cx="1457.9" cy="1596.7" r="8.14"/>
<circle cx="1459.3" cy="1596.0" r="8.14"/>
<circle cx="1460.8" cy="1595.3" r="8.14"/>
<circle cx="1462.3" cy="1594.5" r="8.14"/>
<circle cx="1463.8" cy="1593.8" r="8.14"/>
<circle cx="1465.3" cy="1593.0" r="8.14"/>
<circle cx="1466.9" cy="1592.2" r="8.14"/>
<circle cx="1468.4" cy="1591.4" r="8.14"/>
<circle cx="1469.9" cy="1590.7" r="8.14"/>
<circle cx="1471.3" cy="1589.9" r="8.14"/>
<circle cx="1472.8" cy="1589.2" r="8.14"/>
<circle cx="1474.3" cy="1588.4" r="8.14"/>
<circle cx="1475.8" cy="1587.6" r="8.14"/>
<circle cx="1477.3" cy="1586.8" r="8.14"/>
<circle cx="1478.8" cy="1585.9" r="8.14"/>
<circle cx="1480.3" cy="1585.1" r="8.14"/>
<circle cx="1481.8" cy="1584.3" r="8.14"/>
<circle cx="1483.2" cy="1583.5" r="8.14"/>
<circle cx="1484.6" cy="1582.7" r="8.14"/>
<circle cx="1486.1" cy="1581.9" r="8.14"/>
<circle cx="1487.5" cy="1581.1" r="8.14"/>
<circle cx="1489.0" cy="1580.2" r="8.14"/>
<circle cx="1490.5" cy="1579.4" r="8.14"/>
<circle cx="1492.0" cy="1578.5" r="8.14"/>
<circle cx="1493.6" cy="1577.6" r="8.14"/>
<circle cx="1494.9" cy="1576.8" r="8.14"/>
<circle cx="1496.3" cy="1575.9" r="8.14"/>
<circle cx="1497.7" cy="1575.1" r="8.14"/>
<circle cx="1499.2" cy="1574.3" r="8.14"/>
<circle cx="1500.6" cy="1573.4" r="8.14"/>
<circle cx="1502.1" cy="1572.5" r="8.14"/>
<circle cx="1503.5" cy="1571.6" r="8.14"/>
<circle cx="1505.0" cy="1570.7" r="8.14"/>
<circle cx="1506.5" cy="1569.7" r="8.14"/>
<circle cx="1508.1" cy="1568.8" r="8.14"/>
<circle cx="1509.6" cy="1567.8" r="8.14"/>
<circle cx="1511.0" cy="1567.0" r="8.14"/>
<circle cx="1512.4" cy="1566.1" r="8.14"/>
<circle cx="1513.8" cy="1565.2" r="8.14"/>
<circle cx="1515.2" cy="1564.3" r="8.14"/>
<circle cx="1516.6" cy="1563.4" r="8.14"/>
<circle cx="1518.1" cy="1562.5" r="8.14"/>
<circle cx="1519.5" cy="1561.5" r="8.14"/>
<circle cx="1521.0" cy="1560.5" r="8.14"/>
<circle cx="1522.5" cy="1559.5" r="8.14"/>
<circle cx="1524.0" cy="1558.4" r="8.14"/>
<circle cx="1525.4" cy="1557.5" r="8.14"/>
<circle cx="1526.7" cy="1556.5" r="8.14"/>
<circle cx="1528.0" cy="1555.5" r="8.14"/>
<circle cx="1529.4" cy="1554.4" r="8.14"/>
<circle cx="1530.8" cy="1553.3" r="8.14"/>
<circle cx="1532.2" cy="1552.1" r="8.14"/>
<circle cx="1533.6" cy="1550.9" r="8.14"/>
<circle cx="1534.8" cy="1549.8" r="8.14"/>
<circle cx="1536.0" cy="1548.6" r="8.14"/>
<circle cx="1537.2" cy="1547.4" r="8.14"/>
<circle cx="1538.4" cy="1546.1" r="8.14"/>
<circle cx="1539.7" cy="1544.7" r="8.14"/>
<circle cx="1540.9" cy="1543.4" r="8.14"/>
<circle cx="1542.2" cy="1541.9" r="8.14"/>
<circle cx="1543.5" cy="1540.5" r="8.14"/>
<circle cx="1544.8" cy="1539.0" r="8.14"/>
<circle cx="1545.8" cy="1537.8" r="8.14"/>
<circle cx="1546.9" cy="1536.5" r="8.14"/>
<circle cx="1547.9" cy="1535.3" r="8.14"/>
<circle cx="1549.0" cy="1534.1" r="8.14"/>
<circle cx="1550.1" cy="1532.8" r="8.14"/>
<circle cx="1551.2" cy="1531.6" r="8.14"/>
<circle cx="1552.3" cy="1530.3" r="8.14"/>
<circle cx="1553.4" cy="1529.1" r="8.14"/>
<circle cx="1554.6" cy="1527.7" r="8.14"/>
<circle cx="1555.7" cy="1526.4" r="8.14"/>
<circle cx="1556.9" cy="1525.0" r="8.14"/>
<circle cx="1558.0" cy="1523.5" r="8.14"/>
<circle cx="1559.2" cy="1522.0" r="8.14"/>
<circle cx="1560.4" cy="1520.4" r="8.14"/>
<circle cx="1561.6" cy="1518.7" r="8.14"/>
<circle cx="1562.5" cy="1517.4" r="8.14"/>
<circle cx="1563.4" cy="1516.0" r="8.14"/>
<circle cx="1564.4" cy="1514.6" r="8.14"/>
<circle cx="1565.3" cy="1512.9" r="8.14"/>
<circle cx="1565.6" cy="1512.3" r="8.14"/>
<circle cx="1565.9" cy="1511.7" r="8.14"/>
<circle cx="1566.3" cy="1511.1" r="8.14"/>
<circle cx="1566.6" cy="1510.5" r="8.14"/>
<circle cx="1566.9" cy="1509.8" r="8.14"/>
<circle cx="1567.2" cy="1509.2" r="8.14"/>
<circle cx="1567.5" cy="1508.5" r="8.14"/>
<circle cx="1567.8" cy="1507.8" r="8.14"/>
<circle cx="1568.2" cy="1507.2" r="8.14"/>
<circle cx="1568.5" cy="1506.5" r="8.14"/>
<circle cx="1568.8" cy="1505.9" r="8.14"/>
<circle cx="1569.1" cy="1505.2" r="8.14"/>
<circle cx="1569.5" cy="1504.6" r="8.14"/>
<circle cx="1569.8" cy="1503.9" r="8.14"/>
<circle cx="1570.1" cy="1503.3" r="8.14"/>
<circle cx="1570.4" cy="1502.6" r="8.14"/>
<circle cx="1570.8" cy="1502.0" r="8.14"/>
<circle cx="1571.1" cy="1501.3" r="8.14"/>
<circle cx="1571.4" cy="1500.7" r="8.14"/>
<circle cx="1571.8" cy="1500.0" r="8.14"/>
<circle cx="1572.1" cy="1498.1" r="8.14"/>
<circle cx="1572.4" cy="1497.7" r="8.14"/>
<circle cx="1572.8" cy="1497.4" r="8.14"/>
<circle cx="1573.1" cy="1497.0" r="8.14"/>
<circle cx="1573.4" cy="1496.6" r="8.14"/>
<circle cx="1573.8" cy="1496.2" r="8.14"/>
<circle cx="1574.1" cy="1495.8" r="8.14"/>
<circle cx="1574.5" cy="1495.4" r="8.14"/>
<circle cx="1574.8" cy="1495.0" r="8.14"/>
<circle cx="1575.1" cy="1494.6" r="8.14"/>
<circle cx="1575.5" cy="1494.2" r="8.14"/>
<circle cx="1575.8" cy="1493.8" r="8.14"/>
<circle cx="1576.2" cy="1493.4" r="8.14"/>
<circle cx="1576.5" cy="1493.0" r="8.14"/>
<circle cx="1576.9" cy="1492.6" r="8.14"/>
<circle cx="1577.2" cy="1492.2" r="8.14"/>
<circle cx="1577.6" cy="1491.8" r="8.14"/>
<circle cx="1577.9" cy="1491.4" r="8.14"/>
<circle cx="1578.3" cy="1491.0" r="8.14"/>
<circle cx="1578.6" cy="1490.6" r="8.14"/>
<circle cx="1579.0" cy="1490.2" r="8.14"/>
<circle cx="1579.3" cy="1489.8" r="8.14"/>
<circle cx="1579.7" cy="1489.4" r="8.14"/>
<circle cx="1580.1" cy="1489.0" r="8.14"/>
<circle cx="1580.4" cy="1488.6" r="8.14"/>
<circle cx="1580.8" cy="1488.1" r="8.14"/>
<circle cx="1581.1" cy="1487.7" r="8.14"/>
<circle cx="1581.5" cy="1487.3" r="8.14"/>
<circle cx="1581.9" cy="1486.9" r="8.14"/>
<circle cx="1582.2" cy="1486.5" r="8.14"/>
<circle cx="1582.6" cy="1486.0" r="8.14"/>
<circle cx="1583.0" cy="1485.6" r="8.14"/>
<circle cx="1583.3" cy="1485.2" r="8.14"/>
<circle cx="1583.7" cy="1484.8" r="8.14"/>
<circle cx="1584.1" cy="1484.3" r="8.14"/>
<circle cx="1584.5" cy="1483.9" r="8.14"/>
<circle cx="1584.8" cy="1483.5" r="8.14"/>
<circle cx="1585.2" cy="1483.0" r="8.14"/>
<circle cx="1585.6" cy="1482.6" r="8.14"/>
<circle cx="1586.0" cy="1482.2" r="8.14"/>
<circle cx="1586.3" cy="1481.7" r="8.14"/>
<circle cx="1586.7" cy="1481.3" r="8.14"/>
<circle cx="1587.1" cy="1480.9" r="8.14"/>
<circle cx="1587.5" cy="1476.9" r="8.14"/>
<circle cx="1587.9" cy="1476.5" r="8.14"/>
<circle cx="1588.3" cy="1476.0" r="8.14"/>
<circle cx="1588.7" cy="1475.6" r="8.14"/>
<circle cx="1589.1" cy="1475.1" r="8.14"/>
<circle cx="1589.4" cy="1474.7" r="8.14"/>
<circle cx="1589.8" cy="1474.2" r="8.14"/>
<circle cx="1590.2" cy="1473.8" r="8.14"/>
<circle cx="1590.6" cy="1473.3" r="8.14"/>
<circle cx="1591.0" cy="1472.8" r="8.14"/>
<circle cx="1591.4" cy="1472.4" r="8.14"/>
<circle cx="1591.8" cy="1471.9" r="8.14"/>
<circle cx="1592.2" cy="1471.5" r="8.14"/>
<circle cx="1592.6" cy="1471.0" r="8.14"/>
<circle cx="1593.0" cy="1470.5" r="8.14"/>
<circle cx="1593.5" cy="1470.0" r="8.14"/>
<circle cx="1593.9" cy="1469.6" r="8.14"/>
<circle cx="1594.3" cy="1469.1" r="8.14"/>
<circle cx="1594.7" cy="1468.6" r="8.14"/>
<circle cx="1595.1" cy="1468.2" r="8.14"/>
<circle cx="1595.5" cy="1467.7" r="8.14"/>
<circle cx="1595.9" cy="1467.2" r="8.14"/>
<circle cx="1596.4" cy="1466.7" r="8.14"/>
<circle cx="1596.8" cy="1466.2" r="8.14"/>
<circle cx="1597.2" cy="1465.7" r="8.14"/>
<circle cx="1597.6" cy="1465.3" r="8.14"/>
<circle cx="1598.1" cy="1464.8" r="8.14"/>
<circle cx="1598.5" cy="1464.3" r="8.14"/>
<circle cx="1598.9" cy="1463.8" r="8.14"/>
<circle cx="1599.3" cy="1463.3" r="8.14"/>
<circle cx="1599.8" cy="1463.1" r="8.14"/>
<circle cx="1600.2" cy="1462.6" r="8.14"/>
<circle cx="1600.7" cy="1462.1" r="8.14"/>
<circle cx="1601.1" cy="1461.6" r="8.14"/>
<circle cx="1601.5" cy="1461.1" r="8.14"/>
<circle cx="1602.0" cy="1460.6" r="8.14"/>
<circle cx="1602.4" cy="1460.1" r="8.14"/>
<circle cx="1602.9" cy="1459.6" r="8.14"/>
<circle cx="1603.3" cy="1459.0" r="8.14"/>
<circle cx="1603.8" cy="1458.5" r="8.14"/>
<circle cx="1604.2" cy="1458.0" r="8.14"/>
<circle cx="1604.7" cy="1457.5" r="8.14"/>
<circle cx="1605.1" cy="1456.9" r="8.14"/>
<circle cx="1605.6" cy="1456.4" r="8.14"/>
<circle cx="1606.1" cy="1455.9" r="8.14"/>
<circle cx="1606.5" cy="1455.4" r="8.14"/>
<circle cx="1607.0" cy="1454.8" r="8.14"/>
<circle cx="1607.5" cy="1454.3" r="8.14"/>
<circle cx="1607.9" cy="1453.7" r="8.14"/>
<circle cx="1608.4" cy="1453.2" r="8.14"/>
<circle cx="1608.9" cy="1452.6" r="8.14"/>
<circle cx="1609.4" cy="1452.1" r="8.14"/>
<circle cx="1609.8" cy="1451.5" r="8.14"/>
<circle cx="1610.3" cy="1451.0" r="8.14"/>
<circle cx="1610.8" cy="1450.4" r="8.14"/>
<circle cx="1611.3" cy="1449.9" r="8.14"/>
<circle cx="1611.8" cy="1446.5" r="8.14"/>
<circle cx="1612.3" cy="1445.9" r="8.14"/>
<circle cx="1612.8" cy="1445.4" r="8.14"/>
<circle cx="1613.3" cy="1444.8" r="8.14"/>
<circle cx="1613.8" cy="1444.2" r="8.14"/>
<circle cx="1614.3" cy="1443.6" r="8.14"/>
<circle cx="1614.8" cy="1443.1" r="8.14"/>
<circle cx="1615.3" cy="1442.5" r="8.14"/>
<circle cx="1615.8" cy="1441.9" r="8.14"/>
<circle cx="1616.3" cy="1441.3" r="8.14"/>
<circle cx="1616.8" cy="1440.7" r="8.14"/>
<circle cx="1617.3" cy="1440.1" r="8.14"/>
<circle cx="1617.8" cy="1439.5" r="8.14"/>
<circle cx="1618.4" cy="1438.9" r="8.14"/>
<circle cx="1618.9" cy="1438.3" r="8.14"/>
<circle cx="1619.4" cy="1437.7" r="8.14"/>
<circle cx="1620.0" cy="1437.1" r="8.14"/>
<circle cx="1620.5" cy="1436.5" r="8.14"/>
<circle cx="1621.0" cy="1435.9" r="8.14"/>
<circle cx="1621.6" cy="1435.2" r="8.14"/>
<circle cx="1622.1" cy="1428.2" r="8.14"/>
<circle cx="1622.7" cy="1427.5" r="8.14"/>
<circle cx="1623.2" cy="1426.9" r="8.14"/>
<circle cx="1623.8" cy="1426.3" r="8.14"/>
<circle cx="1624.3" cy="1425.6" r="8.14"/>
<circle cx="1624.9" cy="1425.0" r="8.14"/>
<circle cx="1625.4" cy="1424.3" r="8.14"/>
<circle cx="1626.0" cy="1423.7" r="8.14"/>
<circle cx="1626.6" cy="1423.0" r="8.14"/>
<circle cx="1627.2" cy="1422.4" r="8.14"/>
<circle cx="1627.7" cy="1421.7" r="8.14"/>
<circle cx="1628.3" cy="1421.0" r="8.14"/>
<circle cx="1628.9" cy="1420.4" r="8.14"/>
<circle cx="1629.5" cy="1419.7" r="8.14"/>
<circle cx="1630.1" cy="1419.0" r="8.14"/>
<circle cx="1630.7" cy="1418.3" r="8.14"/>
<circle cx="1631.3" cy="1417.6" r="8.14"/>
<circle cx="1631.9" cy="1406.7" r="8.14"/>
<circle cx="1632.5" cy="1406.2" r="8.14"/>
<circle cx="1633.1" cy="1405.7" r="8.14"/>
<circle cx="1633.7" cy="1405.2" r="8.14"/>
<circle cx="1634.3" cy="1404.7" r="8.14"/>
<circle cx="1634.9" cy="1404.2" r="8.14"/>
<circle cx="1635.6" cy="1403.7" r="8.14"/>
<circle cx="1636.2" cy="1403.2" r="8.14"/>
<circle cx="1636.8" cy="1402.7" r="8.14"/>
<circle cx="1637.5" cy="1402.2" r="8.14"/>
<circle cx="1638.1" cy="1401.7" r="8.14"/>
<circle cx="1638.7" cy="1401.2" r="8.14"/>
<circle cx="1639.4" cy="1400.6" r="8.14"/>
<circle cx="1640.1" cy="1400.1" r="8.14"/>
<circle cx="1640.7" cy="1388.4" r="8.14"/>
<circle cx="1641.4" cy="1387.9" r="8.14"/>
<circle cx="1642.1" cy="1387.4" r="8.14"/>
<circle cx="1642.7" cy="1386.8" r="8.14"/>
<circle cx="1643.4" cy="1386.3" r="8.14"/>
<circle cx="1644.1" cy="1385.7" r="8.14"/>
<circle cx="1644.8" cy="1385.2" r="8.14"/>
<circle cx="1645.5" cy="1384.6" r="8.14"/>
<circle cx="1646.2" cy="1384.1" r="8.14"/>
<circle cx="1646.9" cy="1383.5" r="8.14"/>
<circle cx="1647.6" cy="1382.9" r="8.14"/>
<circle cx="1648.3" cy="1382.3" r="8.14"/>
<circle cx="1649.0" cy="1381.8" r="8.14"/>
<circle cx="1649.8" cy="1381.2" r="8.14"/>
<circle cx="1650.5" cy="1380.6" r="8.14"/>
<circle cx="1651.2" cy="1372.5" r="8.14"/>
<circle cx="1652.0" cy="1371.9" r="8.14"/>
<circle cx="1652.7" cy="1371.3" r="8.14"/>
<circle cx="1653.5" cy="1370.7" r="8.14"/>
<circle cx="1654.3" cy="1370.1" r="8.14"/>
<circle cx="1655.0" cy="1369.5" r="8.14"/>
<circle cx="1655.8" cy="1368.8" r="8.14"/>
<circle cx="1656.6" cy="1368.2" r="8.14"/>
<circle cx="1657.4" cy="1367.6" r="8.14"/>
<circle cx="1658.2" cy="1366.9" r="8.14"/>
<circle cx="1659.0" cy="1366.3" r="8.14"/>
<circle cx="1659.8" cy="1365.6" r="8.14"/>
<circle cx="1660.6" cy="1356.7" r="8.14"/>
<circle cx="1661.5" cy="1356.0" r="8.14"/>
<circle cx="1662.3" cy="1355.3" r="8.14"/>
<circle cx="1663.2" cy="1354.7" r="8.14"/>
<circle cx="1664.0" cy="1354.0" r="8.14"/>
<circle cx="1664.9" cy="1353.3" r="8.14"/>
<circle cx="1665.7" cy="1352.6" r="8.14"/>
<circle cx="1666.6" cy="1351.9" r="8.14"/>
<circle cx="1667.5" cy="1351.2" r="8.14"/>
<circle cx="1668.4" cy="1350.5" r="8.14"/>
<circle cx="1669.3" cy="1343.0" r="8.14"/>
<circle cx="1670.2" cy="1342.2" r="8.14"/>
<circle cx="1671.1" cy="1341.5" r="8.14"/>
<circle cx="1672.1" cy="1340.7" r="8.14"/>
<circle cx="1673.0" cy="1340.0" r="8.14"/>
<circle cx="1674.0" cy="1339.2" r="8.14"/>
<circle cx="1674.9" cy="1338.4" r="8.14"/>
<circle cx="1675.9" cy="1337.7" r="8.14"/>
<circle cx="1676.9" cy="1336.9" r="8.14"/>
<circle cx="1677.9" cy="1336.1" r="8.14"/>
<circle cx="1678.9" cy="1325.6" r="8.14"/>
<circle cx="1679.9" cy="1324.7" r="8.14"/>
<circle cx="1681.0" cy="1323.9" r="8.14"/>
<circle cx="1682.0" cy="1323.1" r="8.14"/>
<circle cx="1683.1" cy="1322.2" r="8.14"/>
<circle cx="1684.2" cy="1321.4" r="8.14"/>
<circle cx="1685.2" cy="1320.5" r="8.14"/>
<circle cx="1686.3" cy="1311.8" r="8.14"/>
<circle cx="1687.5" cy="1310.9" r="8.14"/>
<circle cx="1688.6" cy="1310.0" r="8.14"/>
<circle cx="1689.7" cy="1309.1" r="8.14"/>
<circle cx="1690.9" cy="1308.1" r="8.14"/>
<circle cx="1692.1" cy="1307.2" r="8.14"/>
<circle cx="1693.3" cy="1306.2" r="8.14"/>
<circle cx="1694.5" cy="1298.1" r="8.14"/>
<circle cx="1695.7" cy="1291.2" r="8.14"/>
<circle cx="1696.9" cy="1279.2" r="8.14"/>
<circle cx="1698.2" cy="1278.2" r="8.14"/>
<circle cx="1699.5" cy="1277.0" r="8.14"/>
<circle cx="1700.8" cy="1276.0" r="8.14"/>
<circle cx="1702.1" cy="1261.0" r="8.14"/>
<circle cx="1703.5" cy="1260.0" r="8.14"/>
<circle cx="1704.8" cy="1259.0" r="8.14"/>
<circle cx="1706.2" cy="1258.0" r="8.14"/>
<circle cx="1707.7" cy="1241.6" r="8.14"/>
<circle cx="1709.1" cy="1238.4" r="8.14"/>
<circle cx="1710.6" cy="1236.6" r="8.14"/>
<circle cx="1712.1" cy="1225.2" r="8.14"/>
<circle cx="1713.6" cy="1223.8" r="8.14"/>
<circle cx="1715.1" cy="1222.4" r="8.14"/>
<circle cx="1716.7" cy="1221.0" r="8.14"/>
<circle cx="1718.3" cy="1219.6" r="8.14"/>
<circle cx="1720.0" cy="1218.2" r="8.14"/>
<circle cx="1721.6" cy="1216.8" r="8.14"/>
<circle cx="1723.4" cy="1197.1" r="8.14"/>
<circle cx="1725.1" cy="1191.7" r="8.14"/>
<circle cx="1726.9" cy="1188.4" r="8.14"/>
<circle cx="1728.7" cy="1185.7" r="8.14"/>
<circle cx="1730.6" cy="1182.8" r="8.14"/>
<circle cx="1732.5" cy="1180.0" r="8.14"/>
<circle cx="1734.5" cy="1177.0" r="8.14"/>
<circle cx="1736.5" cy="1167.8" r="8.14"/>
<circle cx="1738.6" cy="1166.1" r="8.14"/>
<circle cx="1740.7" cy="1164.4" r="8.14"/>
<circle cx="1742.9" cy="1162.6" r="8.14"/>
<circle cx="1745.2" cy="1160.8" r="8.14"/>
<circle cx="1747.5" cy="1137.1" r="8.14"/>
<circle cx="1749.9" cy="1133.7" r="8.14"/>
<circle cx="1752.4" cy="1110.6" r="8.14"/>
<circle cx="1754.9" cy="1107.1" r="8.14"/>
<circle cx="1757.6" cy="1096.5" r="8.14"/>
<circle cx="1760.3" cy="1087.2" r="8.14"/>
<circle cx="1763.2" cy="1086.0" r="8.14"/>
<circle cx="1766.1" cy="1084.7" r="8.14"/>
<circle cx="1769.2" cy="1069.8" r="8.14"/>
<circle cx="1772.4" cy="1053.1" r="8.14"/>
<circle cx="1775.8" cy="1050.3" r="8.14"/>
<circle cx="1779.3" cy="1029.9" r="8.14"/>
<circle cx="1783.0" cy="1029.6" r="8.14"/>
<circle cx="1786.9" cy="1014.0" r="8.14"/>
<circle cx="1791.0" cy="979.6" r="8.14"/>
<circle cx="1795.4" cy="977.2" r="8.14"/>
<circle cx="1800.0" cy="974.6" r="8.14"/>
<circle cx="1805.0" cy="948.6" r="8.14"/>
<circle cx="1810.4" cy="942.4" r="8.14"/>
<circle cx="1816.2" cy="850.6" r="8.14"/>
<circle cx="1822.5" cy="845.0" r="8.14"/>
<circle cx="1829.5" cy="841.5" r="8.14"/>
<circle cx="1837.3" cy="819.3" r="8.14"/>
<circle cx="1846.1" cy="735.0" r="8.14"/>
<circle cx="1856.3" cy="690.1" r="8.14"/>
<circle cx="1868.4" cy="666.7" r="8.14"/>
<circle cx="1883.2" cy="654.9" r="8.14"/>
<circle cx="1902.7" cy="443.7" r="8.14"/>
<circle cx="1931.6" cy="316.4" r="8.14"/>
<circle cx="1990.6" cy="111.0" r="8.14"/>
</g>

<path d="M189.8 1748.4L2076.1 1582.4" stroke="#000" stroke-width="4.45" fill="none"/>

<rect x="189.8" y="22.9" width="1886.30" height="1944.20" fill="none" stroke="#333" stroke-width="4.45"/>
</g>

<path class="tk" d="M178.34 1660.70H189.8"/>
<path class="tk" d="M178.34 1129.02H189.8"/>
<path class="tk" d="M178.34 597.33H189.8"/>
<path class="tk" d="M178.34 65.65H189.8"/>
<path class="tk" d="M263.46 1967.1V1978.56"/>
<path class="tk" d="M698.18 1967.1V1978.56"/>
<path class="tk" d="M1132.90 1967.1V1978.56"/>
<path class="tk" d="M1567.62 1967.1V1978.56"/>
<path class="tk" d="M2002.34 1967.1V1978.56"/>
<text class="at" text-anchor="end" x="169.2" y="1674.6">0.000</text>
<text class="at" text-anchor="end" x="169.2" y="1142.9">0.004</text>
<text class="at" text-anchor="end" x="169.2" y="611.2">0.008</text>
<text class="at" text-anchor="end" x="169.2" y="79.6">0.012</text>
<text class="at" text-anchor="middle" x="263.5" y="2014.1">-4</text>
<text class="at" text-anchor="middle" x="698.2" y="2014.1">-2</text>
<text class="at" text-anchor="middle" x="1132.9" y="2014.1">0</text>
<text class="at" text-anchor="middle" x="1567.6" y="2014.1">2</text>
<text class="at" text-anchor="middle" x="2002.3" y="2014.1">4</text>
<text class="ti" text-anchor="middle" x="1133.0" y="2066.5">Theoretical Normal Distribution (Z-score)</text>
<text class="ti" text-anchor="middle" transform="translate(55.8 995.0) rotate(-90)">Observed Loadings</text>
</svg></body></html>
